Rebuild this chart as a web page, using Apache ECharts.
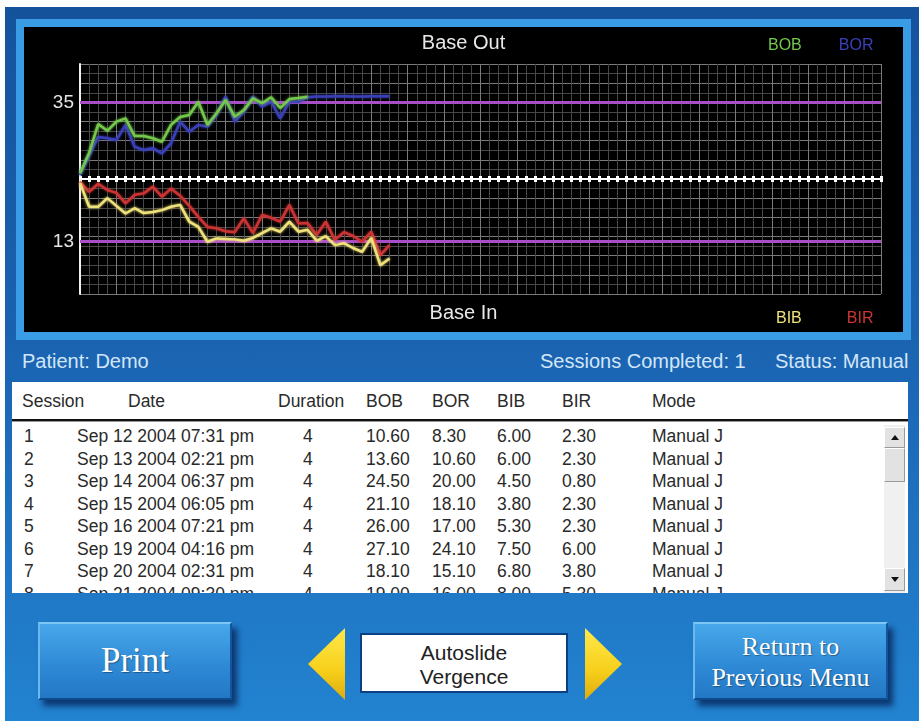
<!DOCTYPE html>
<html>
<head>
<meta charset="utf-8">
<title>Autoslide Vergence</title>
<script src="https://cdn.jsdelivr.net/npm/echarts@6.0.0/dist/echarts.min.js"></script>
<style>
html, body { margin: 0; padding: 0; background: #fff; }
body { width: 919px; height: 721px; position: relative; overflow: hidden; font-family: "Liberation Sans", Arial, sans-serif; }
#app { position: absolute; left: 5px; top: 7px; width: 914px; height: 714px;
    background: linear-gradient(180deg, #15529c 0%, #1a62b0 45%, #1f74c2 75%, #2283d0 100%); }
#frame { position: absolute; left: 16px; top: 19px; width: 895px; height: 321px; box-sizing: border-box;
    border: 8px solid #3a9ce4; background: #000; }
#chart { position: absolute; left: 24px; top: 27px; width: 879px; height: 305px; }
.info { position: absolute; top: 350px; font-size: 20px; line-height: 22px; color: #d3e6f8; white-space: nowrap; }
#tbl { position: absolute; left: 12px; top: 382px; width: 896px; height: 211px; background: #fff; overflow: hidden; }
#tbl span { position: absolute; font-size: 17.5px; line-height: 22px; color: #2a2a2a; white-space: nowrap; }
#sep { position: absolute; left: 0; top: 37px; width: 896px; height: 2px; background: #111; border-bottom: 1px solid #999; }
#scroll { position: absolute; left: 872px; top: 43px; width: 21px; height: 168px; background: #f0f0f0; }
.sbtn { position: absolute; left: 0; width: 21px; box-sizing: border-box; background: #e2e2e2;
    border-top: 1px solid #fff; border-left: 1px solid #fff; border-right: 1px solid #999; border-bottom: 1px solid #999; }
.arrow { position: absolute; left: 6px; width: 0; height: 0; border-left: 4px solid transparent; border-right: 4px solid transparent; }
.btn { position: absolute; top: 622px; height: 78px; box-sizing: border-box; color: #fff;
    font-family: "Liberation Serif", "Times New Roman", serif; text-align: center;
    background: linear-gradient(180deg, #47a8ea 0%, #2f8ad6 55%, #2378c6 100%);
    border-top: 2px solid #7cc6f4; border-left: 2px solid #6ab8ee; border-right: 2px solid #13559c; border-bottom: 2px solid #0f4a8c;
    box-shadow: 5px 6px 6px rgba(5, 30, 80, 0.75); text-shadow: 1px 1px 1px rgba(0, 0, 0, 0.35); }
.tri { position: absolute; top: 628px; width: 37px; height: 72px; background: linear-gradient(180deg, #ffe94a 0%, #f6cf1a 60%, #e0aa10 100%); }
#box { position: absolute; left: 360px; top: 633px; width: 208px; height: 60px; background: #fff; box-sizing: border-box;
    border: 2px solid #0d3f84; text-align: center; font-size: 21px; line-height: 24px; color: #222; padding-top: 6px; }
</style>
</head>
<body>
<div id="app"></div>
<div id="frame"></div>
<div id="chart"></div>

<div class="info" style="left:22px">Patient: Demo</div>
<div class="info" style="left:540px">Sessions Completed: 1</div>
<div class="info" style="left:775px">Status: Manual</div>

<div id="tbl">
    <div id="sep"></div>
    <div id="scroll">
        <div class="sbtn" style="top:2px;height:21px"><div class="arrow" style="top:7px;border-bottom:5px solid #111"></div></div>
        <div class="sbtn" style="top:23px;height:34px"></div>
        <div class="sbtn" style="top:143px;height:23px"><div class="arrow" style="top:8px;border-top:5px solid #111"></div></div>
    </div>
</div>

<div class="btn" style="left:38px;width:194px;font-size:35px;line-height:74px">Print</div>
<div class="tri" style="left:308px;clip-path:polygon(0 50%,100% 0,100% 100%)"></div>
<div id="box">Autoslide<br>Vergence</div>
<div class="tri" style="left:585px;clip-path:polygon(0 0,100% 50%,0 100%)"></div>
<div class="btn" style="left:693px;width:195px;font-size:26px;line-height:31px;padding-top:7px">Return to<br>Previous Menu</div>

<script>
// ---- chart data (sample index = one minor grid step) ----
var samples = [0, 1, 2, 3, 4, 5, 6, 7, 8, 9, 10, 11, 12, 13, 14, 15, 16, 17, 18, 19, 20, 21, 22, 23, 24, 25, 26, 27, 28, 29, 30, 31, 32, 33, 34];

// base out (upper half)
var bobValues = [2.6, 11.9, 25.1, 22.0, 26.2, 27.7, 19.6, 19.6, 18.6, 17.0, 24.7, 28.3, 29.2, 35.3, 24.7, 30.0, 36.1, 28.4, 31.5, 36.8, 34.6, 37.3, 32.4, 36.5, 37.0, 37.6];
var borValues = [1.8, 10.5, 19.2, 18.6, 17.8, 24.7, 14.7, 13.2, 14.0, 11.7, 16.3, 26.2, 21.6, 24.7, 23.9, 29.2, 37.6, 26.2, 30.7, 37.6, 33.0, 35.3, 27.7, 35.3, 35.3, 37.3, 37.7, 37.7, 37.8, 37.8, 37.7, 37.7, 37.8, 37.8, 37.8];

// base in (lower half, grows downward)
var bibValues = [0.8, 5.8, 5.8, 4.0, 5.6, 7.2, 6.1, 7.1, 6.9, 6.5, 5.8, 5.4, 8.9, 10.0, 13.1, 12.4, 12.5, 12.6, 12.9, 12.3, 11.3, 10.3, 11.0, 8.9, 11.0, 10.6, 12.9, 11.9, 13.8, 13.4, 14.4, 15.2, 12.3, 18.0, 16.6];
var birValues = [0.6, 2.7, 1.0, 2.3, 2.9, 5.1, 3.3, 3.0, 1.6, 3.7, 2.0, 3.5, 5.6, 7.9, 10.0, 10.3, 10.9, 11.1, 8.2, 11.3, 7.5, 8.1, 8.9, 5.4, 9.3, 9.2, 11.7, 8.9, 12.7, 11.1, 11.9, 13.1, 11.0, 15.9, 13.8];

var baseOutTarget = 35;
var baseInTarget = 13;

// ---- session table data ----
var sessionNo = [1, 2, 3, 4, 5, 6, 7, 8];
var sessionDate = ['Sep 12 2004 07:31 pm', 'Sep 13 2004 02:21 pm', 'Sep 14 2004 06:37 pm', 'Sep 15 2004 06:05 pm',
    'Sep 16 2004 07:21 pm', 'Sep 19 2004 04:16 pm', 'Sep 20 2004 02:31 pm', 'Sep 21 2004 09:30 pm'];
var sessionDuration = [4, 4, 4, 4, 4, 4, 4, 4];
var sessionBOB = [10.60, 13.60, 24.50, 21.10, 26.00, 27.10, 18.10, 19.00];
var sessionBOR = [8.30, 10.60, 20.00, 18.10, 17.00, 24.10, 15.10, 16.00];
var sessionBIB = [6.00, 6.00, 4.50, 3.80, 5.30, 7.50, 6.80, 8.00];
var sessionBIR = [2.30, 2.30, 0.80, 2.30, 2.30, 6.00, 3.80, 5.30];
var sessionMode = ['Manual J', 'Manual J', 'Manual J', 'Manual J', 'Manual J', 'Manual J', 'Manual J', 'Manual J'];

var headers = ['Session', 'Date', 'Duration', 'BOB', 'BOR', 'BIB', 'BIR', 'Mode'];
var headerX = [10, 116, 266, 354, 420, 485, 550, 640];
var cellX = [12, 65, 291, 354, 420, 485, 550, 640];

var colors = {
    bob: '#74c84c',
    bor: '#3a40b8',
    bib: '#f0e27a',
    bir: '#cc3434',
    target: '#a84ec6'
};

;
(function() {
    var tbl = document.getElementById('tbl');

    function addText(txt, x, y) {
        var s = document.createElement('span');
        s.textContent = txt;
        s.style.left = x + 'px';
        s.style.top = y + 'px';
        tbl.appendChild(s);
    }

    for (var h = 0; h < headers.length; h++) {
        addText(headers[h], headerX[h], 8);
    }
    for (var i = 0; i < sessionNo.length; i++) {
        var y = 43 + i * 22.55;
        var row = [sessionNo[i], sessionDate[i], sessionDuration[i], sessionBOB[i].toFixed(2),
            sessionBOR[i].toFixed(2), sessionBIB[i].toFixed(2), sessionBIR[i].toFixed(2), sessionMode[i]];
        for (var c = 0; c < row.length; c++) {
            addText(String(row[c]), cellX[c], y);
        }
    }
})();

;
(function() {
    function pairs(vals) {
        var out = [];
        for (var i = 0; i < vals.length; i++) {
            out.push([samples[i], vals[i]]);
        }
        return out;
    }

    var gridLine = { lineStyle: { color: '#7a7a7a', width: 1 } };
    var minorLine = { show: true, lineStyle: { color: '#474747', width: 1 } };

    function xAxisOpt(gridIndex, position) {
        return {
            type: 'value',
            gridIndex: gridIndex,
            position: position,
            min: 0,
            max: 88,
            interval: 4,
            axisLabel: { show: false },
            axisLine: { show: true, lineStyle: { color: '#ffffff', width: 2 } },
            axisTick: { show: true, inside: true, length: 3, lineStyle: { color: '#ffffff', width: 3 } },
            minorTick: { show: true, splitNumber: 4, length: 3, lineStyle: { color: '#ffffff', width: 3 } },
            splitLine: gridLine,
            minorSplitLine: minorLine
        };
    }

    function yAxisOpt(gridIndex, max, interval, inverse) {
        return {
            type: 'value',
            gridIndex: gridIndex,
            min: 0,
            max: max,
            interval: interval,
            inverse: inverse,
            axisLabel: { show: false },
            axisTick: { show: false },
            axisLine: { show: true, lineStyle: { color: '#f0f0f0', width: 2 } },
            splitLine: gridLine,
            minorSplitLine: minorLine,
            minorTick: { show: false, splitNumber: 2 }
        };
    }

    function targetLine(value) {
        return {
            silent: true,
            symbol: 'none',
            z: 1,
            lineStyle: { color: colors.target, width: 3, type: 'solid' },
            label: { position: 'start', distance: 6, formatter: String(value), color: '#e4e4e4', fontSize: 19, fontFamily: 'Liberation Sans' },
            data: [{ yAxis: value }]
        };
    }

    function lineSeries(name, vals, color, idx, extra) {
        var s = {
            name: name,
            type: 'line',
            xAxisIndex: idx,
            yAxisIndex: idx,
            data: pairs(vals),
            showSymbol: false,
            smooth: false,
            z: 3,
            lineStyle: { color: color, width: 2.5, shadowColor: color, shadowBlur: 3 },
            itemStyle: { color: color }
        };
        if (extra) s.markLine = extra;
        return s;
    }

    var legendText = { fontSize: 16, fontFamily: 'Liberation Sans' };
    var titleText = { color: '#e8e8e8', fontSize: 20, fontWeight: 'normal', fontFamily: 'Liberation Sans' };

    var chart = echarts.init(document.getElementById('chart'));
    chart.setOption({
        backgroundColor: '#000',
        animation: false,
        title: [{
            text: 'Base Out',
            left: 'center',
            top: 1,
            textStyle: titleText
        }, {
            text: 'Base In',
            left: 'center',
            top: 271,
            textStyle: titleText
        }],
        legend: [{
            left: 734,
            top: 6,
            icon: 'none',
            itemWidth: 0,
            itemGap: 32,
            selectedMode: false,
            textStyle: legendText,
            data: [{ name: 'BOB', textStyle: { color: colors.bob } }, { name: 'BOR', textStyle: { color: colors.bor } }]
        }, {
            left: 742,
            top: 279,
            icon: 'none',
            itemWidth: 0,
            itemGap: 40,
            selectedMode: false,
            textStyle: legendText,
            data: [{ name: 'BIB', textStyle: { color: colors.bib } }, { name: 'BIR', textStyle: { color: colors.bir } }]
        }],
        grid: [
            { left: 56, top: 37, width: 801, height: 115 },
            { left: 56, top: 152, width: 801, height: 115 }
        ],
        xAxis: [xAxisOpt(0, 'bottom'), xAxisOpt(1, 'top')],
        yAxis: [yAxisOpt(0, 52.5, 8.75, false), yAxisOpt(1, 24, 4, true)],
        series: [
            lineSeries('BOR', borValues, colors.bor, 0, targetLine(baseOutTarget)),
            lineSeries('BOB', bobValues, colors.bob, 0),
            lineSeries('BIR', birValues, colors.bir, 1, targetLine(baseInTarget)),
            lineSeries('BIB', bibValues, colors.bib, 1)
        ]
    });
})();
</script>
</body>
</html>
